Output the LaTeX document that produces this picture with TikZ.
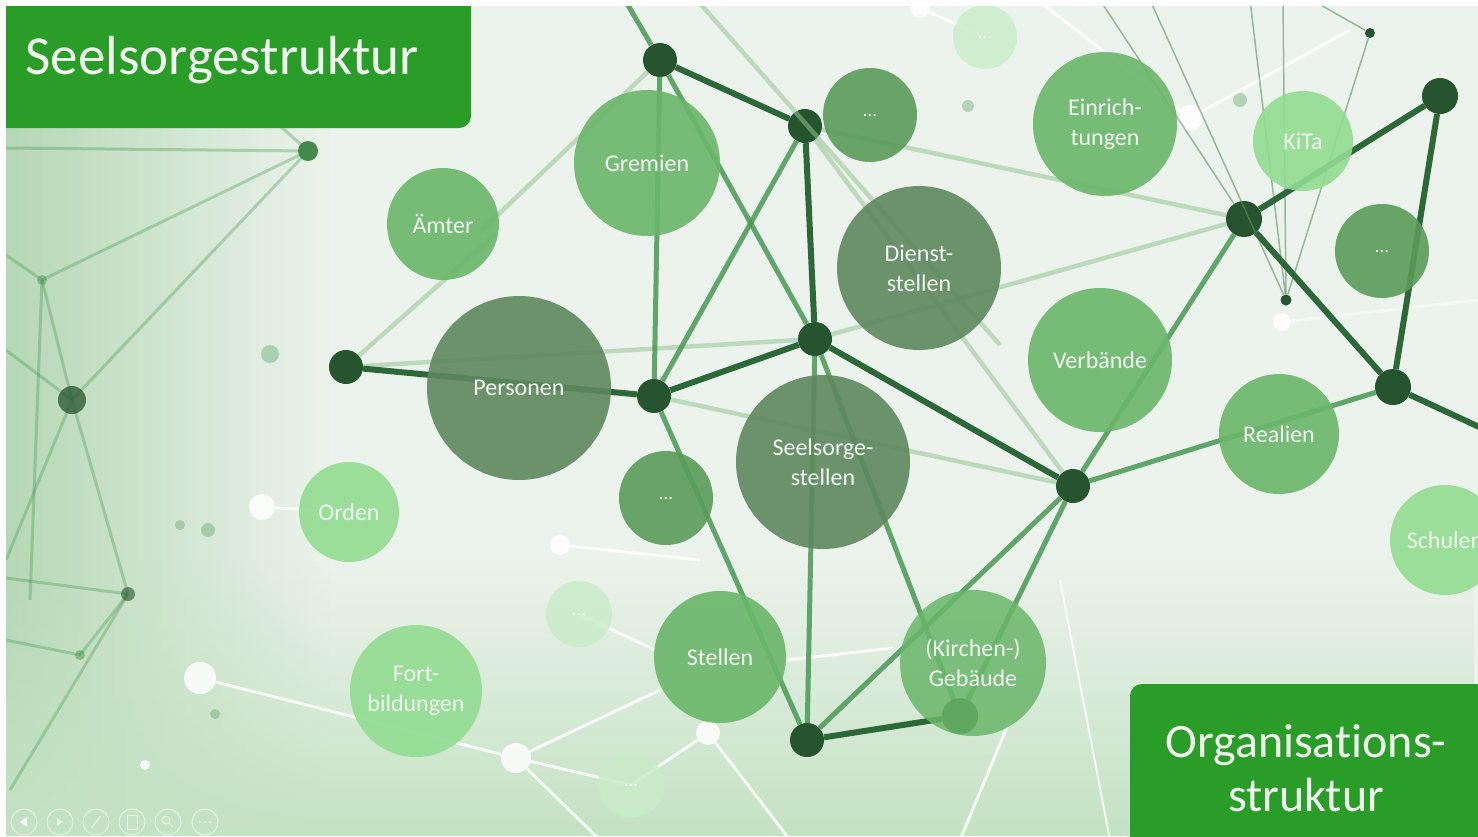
\documentclass[tikz,border=0pt]{standalone}
\usepackage{fontspec}
\setmainfont{Carlito}[Ligatures=NoCommon]
\usetikzlibrary{fadings}
\definecolor{titleG}{RGB}{42,157,40}
\definecolor{cDark}{RGB}{94,136,94}
\definecolor{cMed}{RGB}{106,182,106}
\definecolor{cMD}{RGB}{90,156,90}
\definecolor{cLight}{RGB}{146,220,146}
\definecolor{cVL}{RGB}{200,236,200}
\definecolor{dotG}{RGB}{38,84,46}
\definecolor{lnDark}{RGB}{44,104,56}
\definecolor{lnMed}{RGB}{72,152,84}
\definecolor{lnLight}{RGB}{150,196,150}
\definecolor{bgM}{RGB}{236,243,236}
\definecolor{bgL}{RGB}{182,216,182}
\definecolor{bgB}{RGB}{196,226,196}
\definecolor{txtW}{RGB}{240,248,240}
\begin{document}
\begin{tikzpicture}[x=1pt,y=1pt,
  bub/.style={circle, inner sep=0pt, minimum size=#1, fill opacity=0.9, text opacity=1, text=txtW, align=center, font=\fontsize{24}{30}\selectfont},
  netdot/.style={circle, inner sep=0pt, minimum size=#1, fill=dotG},
  thickln/.style={line width=6pt, draw=lnDark},
  medln/.style={line width=5pt, draw=lnMed, opacity=0.85},
  lightln/.style={line width=4.5pt, draw=lnLight, opacity=0.55},
  bgln/.style={line width=3pt, draw=lnMed, opacity=0.35},
  whln/.style={line width=3pt, draw=white, opacity=0.8},
  thinln/.style={line width=1.5pt, draw=lnMed!60!gray, opacity=0.6},
  whdot/.style={circle, inner sep=0pt, minimum size=#1, fill=white, fill opacity=0.85},
  blurdot/.style={circle, inner sep=0pt, minimum size=#1, fill=lnMed, fill opacity=0.35},
  tool/.style={circle, inner sep=0pt, minimum size=26pt, draw=white, draw opacity=0.6, line width=1pt},
  ell/.style={font=\fontsize{19}{22}\selectfont},
]
\useasboundingbox (0,0) rectangle (1478,-836);
\fill[white] (0,0) rectangle (1478,-836);
\begin{scope}
\clip (6,-6) rectangle (1478,-836);
% background
\fill[bgM] (6,-6) rectangle (1478,-836);
\fill[bgL, path fading=east] (6,-6) rectangle (330,-836);
\fill[bgB, path fading=north] (6,-560) rectangle (1478,-836);

% left blurred network
\coordinate (L1) at (308,-151);
\coordinate (L2) at (72,-400);
\coordinate (L3) at (128,-594);
\coordinate (L4) at (80,-655);
\coordinate (L5) at (42,-280);
\coordinate (E1) at (6,-148);
\coordinate (E2) at (6,-350);
\coordinate (E3) at (6,-560);
\coordinate (E4) at (6,-578);
\coordinate (E5) at (10,-790);
\coordinate (E6) at (6,-640);
\coordinate (E7) at (6,-255);
\coordinate (E8) at (240,-90);
\coordinate (E9) at (30,-600);
\draw[bgln] (L1) -- (E1);
\draw[bgln] (L1) -- (L5);
\draw[bgln] (L1) -- (L2);
\draw[bgln] (L1) -- (E8);
\draw[bgln] (L2) -- (L5);
\draw[bgln] (L2) -- (E2);
\draw[bgln] (L2) -- (L3);
\draw[bgln] (L2) -- (E3);
\draw[bgln] (L3) -- (E4);
\draw[bgln] (L3) -- (L4);
\draw[bgln] (L3) -- (E5);
\draw[bgln] (L4) -- (E6);
\draw[bgln] (L5) -- (E7);
\draw[bgln] (L5) -- (E9);
\node[blurdot=28pt, fill opacity=0.75, fill=dotG] (bl2) at (L2) {};
\node[blurdot=14pt, fill opacity=0.6, fill=dotG] (bl3) at (L3) {};
\node[blurdot=10pt, fill opacity=0.5] (bl4) at (L4) {};
\node[blurdot=10pt, fill opacity=0.5] (bl5) at (L5) {};
\node[blurdot=18pt] (bd1) at (270,-354) {};
\node[blurdot=10pt] (bd2) at (180,-525) {};
\node[blurdot=14pt] (bd3) at (208,-530) {};
\node[blurdot=10pt] (bd4) at (215,-714) {};
\node[blurdot=12pt] (bd5) at (968,-106) {};
\node[blurdot=14pt] (bd6) at (1240,-100) {};

% white network
\node[whdot=26pt] (W1) at (262,-507) {};
\node[whdot=32pt] (W2) at (200,-678) {};
\node[whdot=30pt] (W3) at (516,-758) {};
\node[whdot=24pt] (W4) at (708,-733) {};
\node[whdot=20pt] (W5) at (560,-545) {};
\node[whdot=26pt] (W6) at (1190,-118) {};
\node[whdot=20pt] (W7) at (920,-8) {};
\node[whdot=10pt] (W8) at (145,-765) {};
\node[whdot=18pt] (W9) at (1282,-322) {};
\coordinate (X1) at (349,-512);
\coordinate (X2) at (660,-690);
\coordinate (X3) at (600,-840);
\coordinate (X4) at (631,-785);
\coordinate (X5) at (790,-840);
\coordinate (X6) at (579,-614);
\coordinate (X7) at (655,-650);
\coordinate (X8) at (787,-660);
\coordinate (X9) at (893,-648);
\coordinate (X10) at (960,-840);
\coordinate (X11) at (1010,-720);
\coordinate (X12) at (1060,-580);
\coordinate (X13) at (1110,-840);
\coordinate (X14) at (1040,-2);
\coordinate (X15) at (1350,-30);
\coordinate (X16) at (985,-37);
\coordinate (X17) at (700,-560);
\coordinate (X18) at (1478,-300);
\draw[whln] (W1) -- (X1);
\draw[whln] (W2) -- (W3);
\draw[whln] (W3) -- (X2);
\draw[whln] (W3) -- (X3);
\draw[whln] (W3) -- (X4);
\draw[whln] (W4) -- (X4);
\draw[whln] (W4) -- (X5);
\draw[whln] (X6) -- (X7);
\draw[whln] (X8) -- (X9);
\draw[whln] (X10) -- (X11);
\draw[whln, line width=2pt] (X12) -- (X13);
\draw[whln] (W6) -- (X14);
\draw[whln] (W6) -- (X15);
\draw[whln] (W7) -- (X16);
\draw[whln] (W5) -- (X17);
\draw[whln, opacity=0.5] (W9) -- (X18);

% main network dots (as nodes)
\node[netdot=34pt] (a) at (660,-60) {};
\node[netdot=34pt] (b) at (805,-126) {};
\node[netdot=34pt] (c) at (815,-339) {};
\node[netdot=34pt] (d) at (654,-396) {};
\node[netdot=34pt] (e) at (346,-367) {};
\node[netdot=34pt] (f) at (1073,-486) {};
\node[netdot=36pt] (g) at (1244,-219) {};
\node[netdot=36pt] (h) at (1440,-96) {};
\node[netdot=36pt] (i) at (1393,-387) {};
\node[netdot=34pt] (j) at (807,-740) {};
\node[netdot=36pt] (k) at (960,-716) {};
\node[netdot=10pt] (s1) at (1370,-33) {};
\node[netdot=11pt] (s2) at (1286,-300) {};
\node[netdot=20pt, fill=lnMed!80!dotG] (L1n) at (L1) {};
\coordinate (top1) at (625,0);
\coordinate (top2) at (697,0);
\coordinate (redge) at (1490,-432);
\coordinate (p1) at (1000,-345);
\coordinate (p2) at (480,-232);
\coordinate (p3) at (495,-235);
\coordinate (t1) at (1100,0);
\coordinate (t2) at (1283,0);
\coordinate (t3) at (1312,0);
\coordinate (t4) at (1250,0);
\coordinate (t5) at (1150,0);

% thin lines top right
\draw[thinln] (t1) -- (g);
\draw[thinln] (t5) -- (s2);
\draw[thinln] (t2) -- (s2);
\draw[thinln] (t3) -- (s1);
\draw[thinln] (s1) -- (s2);
\draw[thinln] (t4) -- (s2);

% light lines
\draw[lightln] (b) -- (f);
\draw[lightln] (d) -- (f);
\draw[lightln] (e) -- (c);
\draw[lightln] (b) -- (g);
\draw[lightln] (c) -- (g);
\draw[lightln] (e) -- (p3);
\draw[lightln] (a) -- (p2);
\draw[lightln] (top2) -- (p1);

% medium lines
\draw[medln] (a) -- (top1);
\draw[medln] (a) -- (d);
\draw[medln] (a) -- (c);
\draw[medln] (b) -- (d);
\draw[medln] (c) -- (j);
\draw[medln] (d) -- (j);
\draw[medln] (c) -- (k);
\draw[medln] (f) -- (k);
\draw[medln] (j) -- (f);
\draw[medln] (f) -- (g);
\draw[medln] (f) -- (i);

% thick lines
\draw[thickln] (a) -- (b);
\draw[thickln] (b) -- (c);
\draw[thickln] (c) -- (d);
\draw[thickln] (d) -- (e);
\draw[thickln] (c) -- (f);
\draw[thickln] (g) -- (h);
\draw[thickln] (g) -- (i);
\draw[thickln] (h) -- (i);
\draw[thickln] (i) -- (redge);
\draw[thickln] (j) -- (k);

% bubbles
\node[bub=146pt, fill=cMed] (gremien) at (647,-163) {Gremien};
\node[bub=112pt, fill=cMed] (aemter) at (443,-224) {Ämter};
\node[bub=144pt, fill=cMed] (einr) at (1105,-124) {Einrich-\\tungen};
\node[bub=100pt, fill=cLight] (kita) at (1303,-141) {KiTa};
\node[bub=94pt, fill=cMD, ell] (dots1) at (870,-115) {…};
\node[bub=94pt, fill=cMD, ell] (dots2) at (1382,-251) {…};
\node[bub=64pt, fill=cVL, ell, fill opacity=0.8] (dots3) at (985,-37) {…};
\node[bub=164pt, fill=cDark] (dienst) at (919,-268) {Dienst-\\stellen};
\node[bub=184pt, fill=cDark] (personen) at (519,-388) {Personen};
\node[bub=144pt, fill=cMed] (verb) at (1100,-360) {Verbände};
\node[bub=174pt, fill=cDark] (seels) at (823,-462) {Seelsorge-\\stellen};
\node[bub=120pt, fill=cMed] (realien) at (1279,-434) {Realien};
\node[bub=94pt, fill=cMD, ell] (dots4) at (666,-498) {…};
\node[bub=100pt, fill=cLight] (orden) at (349,-512) {Orden};
\node[bub=110pt, fill=cLight] (schulen) at (1445,-540) {Schulen};
\node[bub=66pt, fill=cVL, ell, fill opacity=0.8] (dots5) at (579,-614) {…};
\node[bub=132pt, fill=cMed] (stellen) at (720,-657) {Stellen};
\node[bub=146pt, fill=cMed, fill opacity=0.85] (geb) at (973,-663) {(Kirchen-)\\Gebäude};
\node[bub=132pt, fill=cLight] (fort) at (416,-691) {Fort-\\bildungen};
\node[bub=66pt, fill=cVL, ell, fill opacity=0.8] (dots6) at (631,-785) {…};

% title boxes
\fill[titleG] (6,-6) -- (471,-6) -- (471,-116) arc[start angle=0, end angle=-90, radius=12] -- (6,-128) -- cycle;
\node[anchor=west, text=txtW, font=\fontsize{55}{66}\selectfont] (title1) at (22,-60) {Seelsorgestruktur};
\fill[titleG] (1130,-840) -- (1130,-696) arc[start angle=180, end angle=90, radius=12] -- (1480,-684) -- (1480,-840) -- cycle;
\node[align=center, text=txtW, font=\fontsize{48}{54}\selectfont] (title2) at (1306,-768) {Organisations-\\struktur};

% slideshow toolbar
\node[tool] (tb1) at (24,-822) {};
\node[tool] (tb2) at (60,-822) {};
\node[tool] (tb3) at (96,-822) {};
\node[tool] (tb4) at (132,-822) {};
\node[tool] (tb5) at (168,-822) {};
\node[tool] (tb6) at (205,-822) {};
\fill[white, opacity=0.8] (20,-822) -- (27,-817) -- (27,-827) -- cycle;
\fill[white, opacity=0.6] (63,-822) -- (57,-818) -- (57,-826) -- cycle;
\draw[white, opacity=0.6, line width=1pt] (91,-828) -- (101,-816);
\draw[white, opacity=0.6, line width=1pt] (127,-815) rectangle (137,-829);
\draw[white, opacity=0.6, line width=1pt] (166,-820) circle (4) (169,-823) -- (173,-827);
\fill[white, opacity=0.6] (200,-822) circle (1) (205,-822) circle (1) (210,-822) circle (1);
\end{scope}
\end{tikzpicture}
\end{document}
